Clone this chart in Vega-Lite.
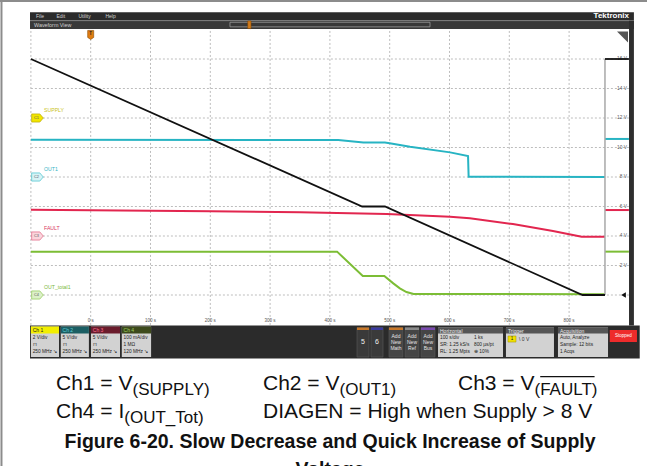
{
"$schema": "https://vega.github.io/schema/vega-lite/v6.json",
"width": 647, "height": 466, "autosize": {"type": "none"}, "padding": 0,
"config": {"view": {"stroke": null}, "axis": {"disable": true}, "legend": {"disable": true}, "font": "Liberation Sans"},
"data": {"values": [{}]},
"datasets": {
"traces": [
{"series":"SUPPLY","seg":"a","t":-100,"v":16},{"series":"SUPPLY","seg":"a","t":454,"v":6},{"series":"SUPPLY","seg":"a","t":492,"v":6},{"series":"SUPPLY","seg":"a","t":822.5,"v":0},{"series":"SUPPLY","seg":"a","t":860,"v":0},
{"series":"SUPPLY","seg":"b","t":860,"v":16},{"series":"SUPPLY","seg":"b","t":900,"v":16},
{"series":"OUT1","seg":"a","t":-100,"v":10.53},{"series":"OUT1","seg":"a","t":414,"v":10.51},{"series":"OUT1","seg":"a","t":456,"v":10.34},{"series":"OUT1","seg":"a","t":492,"v":10.34},{"series":"OUT1","seg":"a","t":500,"v":10.29},{"series":"OUT1","seg":"a","t":534,"v":10.05},{"series":"OUT1","seg":"a","t":601,"v":9.67},{"series":"OUT1","seg":"a","t":631,"v":9.42},{"series":"OUT1","seg":"a","t":632,"v":8.02},{"series":"OUT1","seg":"a","t":860,"v":8.0},
{"series":"OUT1","seg":"b","t":860,"v":10.58},{"series":"OUT1","seg":"b","t":900,"v":10.58},
{"series":"FAULT","seg":"a","t":-100,"v":5.78},{"series":"FAULT","seg":"a","t":200,"v":5.67},{"series":"FAULT","seg":"a","t":350,"v":5.61},{"series":"FAULT","seg":"a","t":495,"v":5.49},{"series":"FAULT","seg":"a","t":601,"v":5.31},{"series":"FAULT","seg":"a","t":634,"v":5.2},{"series":"FAULT","seg":"a","t":706,"v":4.81},{"series":"FAULT","seg":"a","t":773,"v":4.34},{"series":"FAULT","seg":"a","t":821,"v":3.95},{"series":"FAULT","seg":"a","t":860,"v":3.95},
{"series":"FAULT","seg":"b","t":860,"v":5.76},{"series":"FAULT","seg":"b","t":900,"v":5.76},
{"series":"OUT_total1","seg":"a","t":-100,"v":2.94},{"series":"OUT_total1","seg":"a","t":412,"v":2.94},{"series":"OUT_total1","seg":"a","t":455,"v":1.29},{"series":"OUT_total1","seg":"a","t":491,"v":1.29},{"series":"OUT_total1","seg":"a","t":506,"v":0.79},{"series":"OUT_total1","seg":"a","t":517,"v":0.45},{"series":"OUT_total1","seg":"a","t":528,"v":0.2},{"series":"OUT_total1","seg":"a","t":540,"v":0.07},{"series":"OUT_total1","seg":"a","t":860,"v":0.05},
{"series":"OUT_total1","seg":"b","t":860,"v":2.94},{"series":"OUT_total1","seg":"b","t":900,"v":2.94}
],
"vgrid": [{"t":-100},{"t":0,"label":"0 s"},{"t":100,"label":"100 s"},{"t":200,"label":"200 s"},{"t":300,"label":"300 s"},{"t":400,"label":"400 s"},{"t":500,"label":"500 s"},{"t":600,"label":"600 s"},{"t":700,"label":"700 s"},{"t":800,"label":"800 s"}],
"hgrid": [{"v":0},{"v":2,"label":"2 V"},{"v":4,"label":"4 V"},{"v":6,"label":"6 V"},{"v":8,"label":"8 V"},{"v":10,"label":"10 V"},{"v":12,"label":"12 V"},{"v":14,"label":"14 V"},{"v":16,"label":"16 V"}],
"chans": [{"ch":"C1","name":"SUPPLY","level":12},{"ch":"C2","name":"OUT1","level":8},{"ch":"C3","name":"FAULT","level":4},{"ch":"C4","name":"OUT_total1","level":0}]
},
"layer": [
{"data":{"name":"vgrid"},"mark":{"type":"rule","color":"#bdbdbd","strokeWidth":1,"strokeDash":[2,2]},
 "encoding":{"x":{"field":"t","type":"quantitative","scale":{"domain":[-151.67,930.27],"nice":false,"zero":false}},"y":{"datum":-2.03},"y2":{"datum":18.03}}},
{"data":{"name":"hgrid"},"mark":{"type":"rule","color":"#bdbdbd","strokeWidth":1,"strokeDash":[2,2]},
 "encoding":{"y":{"field":"v","type":"quantitative","scale":{"domain":[-11.593,20],"nice":false,"zero":false}},"x":{"datum":-100},"x2":{"datum":900}}},
{"mark":{"type":"rule","color":"#8c8c8c","strokeWidth":2},"encoding":{"x":{"datum":-151.67},"x2":{"datum":930.27},"y":{"datum":19.93}}},
{"mark":{"type":"rule","color":"#8c8c8c","strokeWidth":2},"encoding":{"x":{"datum":-149.2},"y":{"datum":20},"y2":{"datum":-11.593}}},
{"mark":{"type":"rect","fill":"#2b2b2b"},"encoding":{"x":{"datum":-101.5},"x2":{"datum":908.4},"y":{"datum":19.166},"y2":{"datum":18.61}}},
{"mark":{"type":"rect","fill":"#393939"},"encoding":{"x":{"datum":-101.5},"x2":{"datum":908.4},"y":{"datum":18.597},"y2":{"datum":18.034}}},
{"mark":{"type":"rule","color":"#7a7a7a","strokeWidth":1},"encoding":{"x":{"datum":-101.5},"x2":{"datum":908.4},"y":{"datum":18.6}}},
{"mark":{"type":"rect","fill":"#2e2e2e"},"encoding":{"x":{"datum":900.2},"x2":{"datum":908.4},"y":{"datum":18.6},"y2":{"datum":-2.07}}},
{"mark":{"type":"rect","fill":"#2b2b2b"},"encoding":{"x":{"datum":-101.5},"x2":{"datum":918.1},"y":{"datum":-2.068},"y2":{"datum":-4.305}}},
{"mark":{"type":"text","fontSize":5,"color":"#d0d0d0","align":"left","baseline":"middle"},"encoding":{"x":{"datum":-91.5},"y":{"datum":18.92},"text":{"value":"File"}}},
{"mark":{"type":"text","fontSize":5,"color":"#d0d0d0","align":"left","baseline":"middle"},"encoding":{"x":{"datum":-57.2},"y":{"datum":18.92},"text":{"value":"Edit"}}},
{"mark":{"type":"text","fontSize":5,"color":"#d0d0d0","align":"left","baseline":"middle"},"encoding":{"x":{"datum":-20.4},"y":{"datum":18.92},"text":{"value":"Utility"}}},
{"mark":{"type":"text","fontSize":5,"color":"#d0d0d0","align":"left","baseline":"middle"},"encoding":{"x":{"datum":24.7},"y":{"datum":18.92},"text":{"value":"Help"}}},
{"mark":{"type":"text","fontSize":8,"fontWeight":"bold","color":"#ffffff","align":"right","baseline":"middle"},"encoding":{"x":{"datum":900.2},"y":{"datum":18.9},"text":{"value":"Tektronix"}}},
{"mark":{"type":"text","fontSize":5.4,"color":"#d0d0d0","align":"left","baseline":"middle"},"encoding":{"x":{"datum":-94.8},"y":{"datum":18.31},"text":{"value":"Waveform View"}}},
{"mark":{"type":"rect","fillOpacity":0,"stroke":"#9a9a9a","strokeWidth":0.8},"encoding":{"x":{"datum":232.9},"x2":{"datum":567.4},"y":{"datum":18.49},"y2":{"datum":18.18}}},
{"mark":{"type":"rect","fill":"#d07a1a","stroke":"#7a4000","strokeWidth":0.5},"encoding":{"x":{"datum":262.5},"x2":{"datum":268.2},"y":{"datum":18.58},"y2":{"datum":18.06}}},
{"mark":{"type":"point","filled":true,"shape":"M-1,-1L1,-1L1,1Z","size":121,"color":"#555555","opacity":1},"encoding":{"x":{"datum":889.3},"y":{"datum":17.49}}},
{"mark":{"type":"point","filled":true,"shape":"M-0.67,-1L0.67,-1L0.67,0.55L0,1L-0.67,0.55Z","size":81,"fill":"#e07d10","stroke":"#8a4a00","strokeWidth":0.6,"opacity":1},"encoding":{"x":{"datum":0},"y":{"datum":17.63}}},
{"mark":{"type":"text","fontSize":4.5,"fontWeight":"bold","color":"#222222","align":"center","baseline":"middle"},"encoding":{"x":{"datum":0},"y":{"datum":17.68},"text":{"value":"T"}}},
{"data":{"name":"hgrid"},"transform":[{"filter":"datum.v > 0"}],"mark":{"type":"text","fontSize":4.8,"color":"#555555","align":"right","baseline":"middle"},"encoding":{"x":{"datum":896.8},"y":{"field":"v","type":"quantitative"},"text":{"field":"label"}}},
{"mark":{"type":"point","filled":true,"shape":"triangle-left","size":30,"color":"#111111","opacity":1},"encoding":{"x":{"datum":891},"y":{"datum":0}}},
{"data":{"name":"vgrid"},"transform":[{"filter":"datum.t >= 0"}],"mark":{"type":"text","fontSize":4.5,"color":"#555555","align":"center","baseline":"middle"},"encoding":{"x":{"field":"t","type":"quantitative"},"y":{"datum":-1.76},"text":{"field":"label"}}},
{"data":{"name":"chans"},"mark":{"type":"point","filled":true,"shape":"M-1,-0.7L0.4,-0.7L1,0L0.4,0.7L-1,0.7Z","size":135,"strokeWidth":0.7,"opacity":1},
 "encoding":{"x":{"datum":-89},"y":{"field":"level","type":"quantitative"},
  "fill":{"field":"ch","type":"nominal","scale":{"domain":["C1","C2","C3","C4"],"range":["#f2e600","#d6f3f5","#fad5dc","#dcf0c8"]},"legend":null},
  "stroke":{"field":"ch","type":"nominal","scale":{"domain":["C1","C2","C3","C4"],"range":["#b8a800","#40c0cc","#e06080","#8cc850"]},"legend":null}}},
{"data":{"name":"chans"},"mark":{"type":"text","fontSize":3.8,"color":"#555555","align":"center","baseline":"middle"},"encoding":{"x":{"datum":-90.6},"y":{"field":"level","type":"quantitative"},"text":{"field":"ch"}}},
{"data":{"name":"chans"},"mark":{"type":"text","fontSize":5.2,"align":"left","baseline":"middle","dy":-8},
 "encoding":{"x":{"datum":-78.1},"y":{"field":"level","type":"quantitative"},"text":{"field":"name"},
  "color":{"field":"name","type":"nominal","scale":{"domain":["SUPPLY","OUT1","FAULT","OUT_total1"],"range":["#c9c21a","#35b5c5","#d83a5e","#7ab83a"]},"legend":null}}},
{"data":{"name":"traces"},"transform":[{"filter":"datum.series == 'FAULT'"}],"mark":{"type":"line","color":"#e2264f","strokeWidth":2},"encoding":{"x":{"field":"t","type":"quantitative"},"y":{"field":"v","type":"quantitative"},"detail":{"field":"seg"}}},
{"data":{"name":"traces"},"transform":[{"filter":"datum.series == 'OUT1'"}],"mark":{"type":"line","color":"#27b4c3","strokeWidth":2},"encoding":{"x":{"field":"t","type":"quantitative"},"y":{"field":"v","type":"quantitative"},"detail":{"field":"seg"}}},
{"data":{"name":"traces"},"transform":[{"filter":"datum.series == 'OUT_total1'"}],"mark":{"type":"line","color":"#7cbd35","strokeWidth":2},"encoding":{"x":{"field":"t","type":"quantitative"},"y":{"field":"v","type":"quantitative"},"detail":{"field":"seg"}}},
{"mark":{"type":"rule","color":"#a8a8a8","strokeWidth":1.5},"encoding":{"x":{"datum":860},"y":{"datum":0},"y2":{"datum":16}}},
{"data":{"name":"traces"},"transform":[{"filter":"datum.series == 'SUPPLY'"}],"mark":{"type":"line","color":"#111111","strokeWidth":1.8},"encoding":{"x":{"field":"t","type":"quantitative"},"y":{"field":"v","type":"quantitative"},"detail":{"field":"seg"}}},

{"mark":{"type":"rect","fill":"#d2d2d2"},"encoding":{"x":{"datum":-100},"x2":{"datum":-53},"y":{"datum":-2.136},"y2":{"datum":-4.203}}},
{"mark":{"type":"rect","fill":"#f2ee00"},"encoding":{"x":{"datum":-100},"x2":{"datum":-53},"y":{"datum":-2.136},"y2":{"datum":-2.61}}},
{"mark":{"type":"text","fontSize":5,"color":"#222222","align":"left","baseline":"middle"},"encoding":{"x":{"datum":-97},"y":{"datum":-2.373},"text":{"value":"Ch 1"}}},
{"mark":{"type":"text","fontSize":4.8,"color":"#222222","align":"left","baseline":"top","lineHeight":7},"encoding":{"x":{"datum":-97},"y":{"datum":-2.712},"text":{"value":["2 V/div","⊓","250 MHz ↘"]}}},
{"mark":{"type":"rect","fill":"#d2d2d2"},"encoding":{"x":{"datum":-50},"x2":{"datum":-3},"y":{"datum":-2.136},"y2":{"datum":-4.203}}},
{"mark":{"type":"rect","fill":"#1b5e63"},"encoding":{"x":{"datum":-50},"x2":{"datum":-3},"y":{"datum":-2.136},"y2":{"datum":-2.61}}},
{"mark":{"type":"text","fontSize":5,"color":"#5fd0d8","align":"left","baseline":"middle"},"encoding":{"x":{"datum":-47},"y":{"datum":-2.373},"text":{"value":"Ch 2"}}},
{"mark":{"type":"text","fontSize":4.8,"color":"#222222","align":"left","baseline":"top","lineHeight":7},"encoding":{"x":{"datum":-47},"y":{"datum":-2.712},"text":{"value":["5 V/div","⊓","250 MHz ↘"]}}},
{"mark":{"type":"rect","fill":"#d2d2d2"},"encoding":{"x":{"datum":0.5},"x2":{"datum":49},"y":{"datum":-2.136},"y2":{"datum":-4.203}}},
{"mark":{"type":"rect","fill":"#6a1c2c"},"encoding":{"x":{"datum":0.5},"x2":{"datum":49},"y":{"datum":-2.136},"y2":{"datum":-2.61}}},
{"mark":{"type":"text","fontSize":5,"color":"#ff7090","align":"left","baseline":"middle"},"encoding":{"x":{"datum":3.5},"y":{"datum":-2.373},"text":{"value":"Ch 3"}}},
{"mark":{"type":"text","fontSize":4.8,"color":"#222222","align":"left","baseline":"top","lineHeight":7},"encoding":{"x":{"datum":3.5},"y":{"datum":-2.712},"text":{"value":["5 V/div","⊓","250 MHz ↘"]}}},
{"mark":{"type":"rect","fill":"#d2d2d2"},"encoding":{"x":{"datum":52},"x2":{"datum":101},"y":{"datum":-2.136},"y2":{"datum":-4.203}}},
{"mark":{"type":"rect","fill":"#3d4a1c"},"encoding":{"x":{"datum":52},"x2":{"datum":101},"y":{"datum":-2.136},"y2":{"datum":-2.61}}},
{"mark":{"type":"text","fontSize":5,"color":"#a0d060","align":"left","baseline":"middle"},"encoding":{"x":{"datum":55},"y":{"datum":-2.373},"text":{"value":"Ch 4"}}},
{"mark":{"type":"text","fontSize":4.8,"color":"#222222","align":"left","baseline":"top","lineHeight":7},"encoding":{"x":{"datum":55},"y":{"datum":-2.712},"text":{"value":["100 mA/div","1 MΩ","120 MHz ↘"]}}},

{"mark":{"type":"rect","fill":"#3a3a3a","stroke":"#5a5a5a","strokeWidth":0.6},"encoding":{"x":{"datum":445.3},"x2":{"datum":465.4},"y":{"datum":-2.203},"y2":{"datum":-4.203}}},
{"mark":{"type":"rect","fill":"#c8782a"},"encoding":{"x":{"datum":445.3},"x2":{"datum":465.4},"y":{"datum":-2.203},"y2":{"datum":-2.373}}},
{"mark":{"type":"text","fontSize":7,"color":"#f0f0f0","align":"center","baseline":"middle"},"encoding":{"x":{"datum":455.4},"y":{"datum":-3.186},"text":{"value":"5"}}},
{"mark":{"type":"rect","fill":"#3a3a3a","stroke":"#5a5a5a","strokeWidth":0.6},"encoding":{"x":{"datum":468.7},"x2":{"datum":488.8},"y":{"datum":-2.203},"y2":{"datum":-4.203}}},
{"mark":{"type":"rect","fill":"#3a3aa0"},"encoding":{"x":{"datum":468.7},"x2":{"datum":488.8},"y":{"datum":-2.203},"y2":{"datum":-2.373}}},
{"mark":{"type":"text","fontSize":7,"color":"#f0f0f0","align":"center","baseline":"middle"},"encoding":{"x":{"datum":478.8},"y":{"datum":-3.186},"text":{"value":"6"}}},

{"mark":{"type":"rect","fill":"#454545","stroke":"#5a5a5a","strokeWidth":0.6},"encoding":{"x":{"datum":498.8},"x2":{"datum":522.2},"y":{"datum":-2.203},"y2":{"datum":-4.203}}},
{"mark":{"type":"rect","fill":"#c8782a"},"encoding":{"x":{"datum":498.8},"x2":{"datum":522.2},"y":{"datum":-2.203},"y2":{"datum":-2.373}}},
{"mark":{"type":"text","fontSize":5,"color":"#e6e6e6","align":"center","baseline":"top","lineHeight":6.2},"encoding":{"x":{"datum":510.5},"y":{"datum":-2.644},"text":{"value":["Add","New","Math"]}}},
{"mark":{"type":"rect","fill":"#454545","stroke":"#5a5a5a","strokeWidth":0.6},"encoding":{"x":{"datum":525.6},"x2":{"datum":549.0},"y":{"datum":-2.203},"y2":{"datum":-4.203}}},
{"mark":{"type":"rect","fill":"#8a8a8a"},"encoding":{"x":{"datum":525.6},"x2":{"datum":549.0},"y":{"datum":-2.203},"y2":{"datum":-2.373}}},
{"mark":{"type":"text","fontSize":5,"color":"#e6e6e6","align":"center","baseline":"top","lineHeight":6.2},"encoding":{"x":{"datum":537.3},"y":{"datum":-2.644},"text":{"value":["Add","New","Ref"]}}},
{"mark":{"type":"rect","fill":"#454545","stroke":"#5a5a5a","strokeWidth":0.6},"encoding":{"x":{"datum":552.3},"x2":{"datum":575.8},"y":{"datum":-2.203},"y2":{"datum":-4.203}}},
{"mark":{"type":"rect","fill":"#7a4ab0"},"encoding":{"x":{"datum":552.3},"x2":{"datum":575.8},"y":{"datum":-2.203},"y2":{"datum":-2.373}}},
{"mark":{"type":"text","fontSize":5,"color":"#e6e6e6","align":"center","baseline":"top","lineHeight":6.2},"encoding":{"x":{"datum":564.05},"y":{"datum":-2.644},"text":{"value":["Add","New","Bus"]}}},

{"mark":{"type":"rect","fill":"#d2d2d2"},"encoding":{"x":{"datum":580.8},"x2":{"datum":689.5},"y":{"datum":-2.203},"y2":{"datum":-4.203}}},
{"mark":{"type":"rect","fill":"#555555"},"encoding":{"x":{"datum":580.8},"x2":{"datum":689.5},"y":{"datum":-2.203},"y2":{"datum":-2.61}}},
{"mark":{"type":"text","fontSize":5,"color":"#eeeeee","align":"left","baseline":"middle"},"encoding":{"x":{"datum":584.1},"y":{"datum":-2.407},"text":{"value":"Horizontal"}}},
{"mark":{"type":"text","fontSize":4.8,"color":"#222222","align":"left","baseline":"top","lineHeight":7},"encoding":{"x":{"datum":584.1},"y":{"datum":-2.712},"text":{"value":["100 s/div","SR: 1.25 kS/s","RL: 1.25 Mpts"]}}},
{"mark":{"type":"text","fontSize":4.8,"color":"#222222","align":"left","baseline":"top","lineHeight":7},"encoding":{"x":{"datum":641},"y":{"datum":-2.712},"text":{"value":["1 ks","800 µs/pt","⊕ 10%"]}}},

{"mark":{"type":"rect","fill":"#d2d2d2"},"encoding":{"x":{"datum":694.4},"x2":{"datum":774.7},"y":{"datum":-2.203},"y2":{"datum":-4.203}}},
{"mark":{"type":"rect","fill":"#555555"},"encoding":{"x":{"datum":694.4},"x2":{"datum":774.7},"y":{"datum":-2.203},"y2":{"datum":-2.61}}},
{"mark":{"type":"text","fontSize":5,"color":"#eeeeee","align":"left","baseline":"middle"},"encoding":{"x":{"datum":697.8},"y":{"datum":-2.407},"text":{"value":"Trigger"}}},
{"mark":{"type":"rect","fill":"#f0e000","stroke":"#a09000","strokeWidth":0.5},"encoding":{"x":{"datum":697.8},"x2":{"datum":711.2},"y":{"datum":-2.78},"y2":{"datum":-3.19}}},
{"mark":{"type":"text","fontSize":4.5,"color":"#222222","align":"center","baseline":"middle"},"encoding":{"x":{"datum":704.5},"y":{"datum":-2.985},"text":{"value":"1"}}},
{"mark":{"type":"text","fontSize":5,"color":"#333333","align":"left","baseline":"middle"},"encoding":{"x":{"datum":716.2},"y":{"datum":-2.983},"text":{"value":"\\    0 V"}}},

{"mark":{"type":"rect","fill":"#d2d2d2"},"encoding":{"x":{"datum":781.4},"x2":{"datum":865.1},"y":{"datum":-2.203},"y2":{"datum":-4.203}}},
{"mark":{"type":"rect","fill":"#555555"},"encoding":{"x":{"datum":781.4},"x2":{"datum":865.1},"y":{"datum":-2.203},"y2":{"datum":-2.61}}},
{"mark":{"type":"text","fontSize":5,"color":"#eeeeee","align":"left","baseline":"middle"},"encoding":{"x":{"datum":784.8},"y":{"datum":-2.407},"text":{"value":"Acquisition"}}},
{"mark":{"type":"text","fontSize":4.8,"color":"#222222","align":"left","baseline":"top","lineHeight":7},"encoding":{"x":{"datum":784.8},"y":{"datum":-2.712},"text":{"value":["Auto,     Analyze","Sample: 12 bits","1 Acqs"]}}},

{"mark":{"type":"rect","fill":"#ee2b2b"},"encoding":{"x":{"datum":868},"x2":{"datum":913.5},"y":{"datum":-2.373},"y2":{"datum":-3.186}}},
{"mark":{"type":"text","fontSize":4.5,"color":"#ffffff","align":"center","baseline":"middle"},"encoding":{"x":{"datum":890.7},"y":{"datum":-2.78},"text":{"value":"Stopped"}}},

{"mark":{"type":"text","fontSize":21,"color":"#111111","align":"left","baseline":"alphabetic"},"encoding":{"x":{"datum":-58},"y":{"datum":-6.44},"text":{"value":"Ch1 = V"}}},
{"mark":{"type":"text","fontSize":17,"color":"#111111","align":"left","baseline":"alphabetic"},"encoding":{"x":{"datum":69.9},"y":{"datum":-6.81},"text":{"value":"(SUPPLY)"}}},
{"mark":{"type":"text","fontSize":21,"color":"#111111","align":"left","baseline":"alphabetic"},"encoding":{"x":{"datum":288.1},"y":{"datum":-6.44},"text":{"value":"Ch2 = V"}}},
{"mark":{"type":"text","fontSize":17,"color":"#111111","align":"left","baseline":"alphabetic"},"encoding":{"x":{"datum":416.1},"y":{"datum":-6.81},"text":{"value":"(OUT1)"}}},
{"mark":{"type":"text","fontSize":21,"color":"#111111","align":"left","baseline":"alphabetic"},"encoding":{"x":{"datum":614.2},"y":{"datum":-6.44},"text":{"value":"Ch3 = V"}}},
{"mark":{"type":"text","fontSize":17,"color":"#111111","align":"left","baseline":"alphabetic"},"encoding":{"x":{"datum":742.1},"y":{"datum":-6.81},"text":{"value":"(FAULT)"}}},
{"mark":{"type":"rule","color":"#111111","strokeWidth":1.2},"encoding":{"x":{"datum":751.7},"x2":{"datum":842.6},"y":{"datum":-5.54}}},
{"mark":{"type":"text","fontSize":21,"color":"#111111","align":"left","baseline":"alphabetic"},"encoding":{"x":{"datum":-58},"y":{"datum":-8.339},"text":{"value":"Ch4 = I"}}},
{"mark":{"type":"text","fontSize":17,"color":"#111111","align":"left","baseline":"alphabetic"},"encoding":{"x":{"datum":56.2},"y":{"datum":-8.7},"text":{"value":"(OUT_Tot)"}}},
{"mark":{"type":"text","fontSize":21,"color":"#111111","align":"left","baseline":"alphabetic"},"encoding":{"x":{"datum":288.1},"y":{"datum":-8.339},"text":{"value":"DIAGEN = High when Supply > 8 V"}}},
{"mark":{"type":"text","fontSize":19.5,"fontWeight":"bold","color":"#111111","align":"center","baseline":"alphabetic"},"encoding":{"x":{"datum":400.3},"y":{"datum":-10.373},"text":{"value":"Figure 6-20. Slow Decrease and Quick Increase of Supply"}}},
{"mark":{"type":"text","fontSize":19.5,"fontWeight":"bold","color":"#111111","align":"center","baseline":"alphabetic"},"encoding":{"x":{"datum":400.3},"y":{"datum":-12.27},"text":{"value":"Voltage"}}}
]
}
